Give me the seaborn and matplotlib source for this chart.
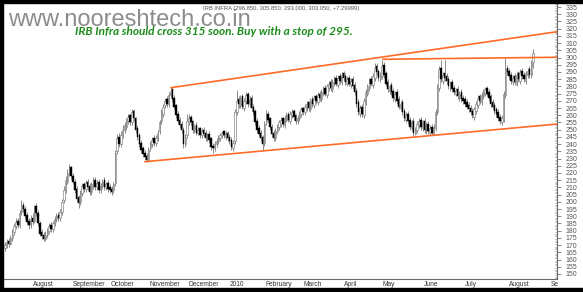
import numpy as np
import pandas as pd
import matplotlib
matplotlib.use("Agg")
import matplotlib.pyplot as plt
import matplotlib.transforms as mtransforms
from matplotlib.patches import Rectangle
from matplotlib.ticker import FixedLocator, MultipleLocator
import seaborn as sns

# ---------------- data ----------------
opens = [168, 170, 173, 171, 175,
         179, 183, 187, 184,
         193,
         198, 195, 191, 187, 184, 189,
         187, 197, 192,
         185, 179, 177, 174,
         177, 180, 184, 181, 185,
         188, 191, 189, 193, 201,
         208, 214, 220, 224, 218,
         214, 209, 203,
         200, 206, 212, 209, 214,
         211, 207, 211, 215, 210, 214, 208,
         211, 215, 210, 213, 210,
         209, 208,
         213, 235, 245, 240, 246,
         250, 252, 256, 260, 255, 263,
         258, 251, 246, 241, 237, 234, 232,
         229, 237, 240, 244, 241, 244,
         249, 256, 261, 267, 271, 268, 274, 278,
         272, 267, 261, 257, 254,
         250, 240, 246,
         255, 259, 256, 250, 253, 248, 251, 246, 250, 248, 244, 247,
         244, 239, 237,
         240, 242, 244, 246, 249, 245, 248, 245, 243, 237,
         242, 262, 271,
         267, 273, 265, 270, 275, 268, 272, 266,
         263, 256, 251, 248, 245,
         241, 255, 261, 258,
         252, 248, 244, 249,
         252, 254, 258, 253, 257, 261, 256, 260, 263, 260, 256, 258,
         261, 265, 262, 265, 269, 264, 271, 267, 273, 269,
         275, 271, 275, 279, 274, 279, 283, 278, 282, 286,
         281, 287, 283, 289, 287, 282, 286, 281,
         285, 281, 277, 269, 261, 266, 260, 269,
         275, 279, 285, 281, 286, 294, 291, 285,
         287, 295, 289, 283, 277, 281, 277, 271,
         276, 271, 265, 269, 263, 257, 261, 257, 251, 256, 247, 250,
         253, 257, 251, 256, 249, 254, 248, 252, 247,
         251, 262, 279, 293, 284, 289, 287, 285, 279,
         283, 279, 275, 278, 272, 276, 272, 271, 269, 267, 265, 263,
         259, 263, 267, 273, 269, 273, 275, 279,
         276, 273, 269, 267, 264, 262, 259, 255,
         257, 274, 293,
         291, 288, 283, 287, 282, 289, 284, 291, 288, 284, 288, 292,
         288, 296.85]

closes = [170, 172, 171, 175, 178,
          183, 186, 184, 192,
          198,
          195, 190, 186, 184, 188, 186,
          196, 192, 185,
          178, 176, 174, 177,
          180, 183, 181, 185, 188,
          190, 189, 193, 200, 208,
          215, 220, 223, 218, 214,
          208, 202, 199,
          206, 211, 209, 213, 210,
          207, 212, 215, 210, 213, 208, 211,
          214, 210, 212, 209, 208,
          207, 212,
          234, 244, 240, 246, 250,
          253, 256, 259, 255, 262, 258,
          250, 245, 240, 236, 233, 231, 229,
          236, 240, 243, 241, 244, 248,
          255, 262, 266, 270, 268, 274, 277, 271,
          266, 260, 256, 253, 250,
          240, 245, 256,
          258, 255, 250, 252, 248, 250, 246, 249, 247, 244, 246, 243,
          238, 237, 240,
          242, 244, 246, 248, 246, 247, 244, 242, 238, 241,
          262, 270, 268,
          272, 266, 270, 274, 268, 271, 265, 262,
          255, 250, 247, 244, 240,
          254, 260, 257, 252,
          247, 244, 249, 252,
          255, 257, 254, 258, 260, 257, 261, 262, 259, 256, 258, 261,
          264, 262, 266, 268, 265, 270, 268, 272, 270, 274,
          272, 276, 278, 275, 280, 282, 279, 283, 285, 282,
          286, 284, 288, 286, 283, 285, 282, 284,
          280, 276, 268, 262, 265, 261, 270, 276,
          280, 284, 282, 287, 293, 290, 286, 288,
          294, 288, 282, 278, 280, 276, 272, 275,
          270, 266, 268, 262, 258, 260, 256, 252, 255, 248, 250, 254,
          256, 252, 255, 250, 253, 249, 251, 248, 252,
          262, 280, 292, 285, 288, 286, 284, 280, 282,
          278, 276, 277, 273, 275, 271, 270, 268, 266, 264, 262, 260,
          264, 268, 272, 270, 274, 276, 278, 275,
          272, 268, 266, 263, 261, 258, 256, 258,
          275, 292, 290,
          287, 284, 286, 283, 288, 285, 290, 287, 285, 289, 291, 288,
          296, 303.05]

highs = [172, 174, 175, 177, 181,
         185, 189, 189, 194,
         201,
         200, 197, 193, 189, 191, 192,
         198, 199, 194,
         187, 181, 179, 180,
         182, 185, 186, 187, 190,
         192, 193, 195, 202, 211,
         218, 223, 226, 225, 220,
         216, 211, 205,
         208, 213, 214, 215, 216,
         213, 214, 217, 217, 215, 216, 213,
         216, 217, 214, 215, 212,
         211, 214,
         236, 247, 248, 249, 253,
         255, 258, 261, 261, 264, 264,
         259, 253, 248, 243, 239, 236, 234,
         238, 242, 245, 246, 246, 250,
         257, 264, 268, 272, 273, 276, 279.5, 279,
         274, 268, 263, 259, 256,
         252, 247, 261,
         261, 260, 257, 254, 255, 252, 252, 251, 252, 250, 248, 249,
         245, 241, 242,
         244, 246, 248, 249, 250, 249, 249, 247, 245, 243,
         264, 277.5, 273,
         274, 275, 272, 276, 276, 273, 274, 268,
         264, 258, 253, 250, 246,
         256, 263.5, 263, 259,
         254, 250, 251, 254,
         257, 259, 259, 260, 262, 262, 263, 264, 264, 261, 260, 263,
         266, 266, 268, 270, 270, 272, 273, 274, 275, 276,
         277, 278, 280, 281, 282, 284, 285, 285, 287, 288,
         288, 289, 290, 291, 289, 287, 288, 286,
         287, 283, 279, 271, 267, 268, 272, 278,
         282, 286, 287, 289, 296, 296, 292, 290,
         298.5, 297, 291, 285, 282, 283, 279, 277,
         278, 273, 270, 271, 265, 262, 263, 259, 257, 258, 252, 256,
         258, 259, 257, 258, 255, 256, 253, 254, 254,
         264, 282, 294, 298.5, 290, 298, 289, 287, 284,
         285, 281, 279, 280, 277, 278, 274, 273, 271, 269, 267, 265,
         266, 270, 274, 275, 276, 278, 279.6, 280,
         278, 275, 271, 269, 266, 264, 261, 260,
         277, 300, 295,
         293, 290, 288, 289, 290, 291, 292, 293, 290, 291, 293, 294,
         298, 305.85]

lows = [166, 168, 169, 170, 173,
        177, 181, 182, 182,
        191,
        193, 188, 184, 181, 182, 184,
        185, 190, 183,
        176, 174, 173, 173,
        175, 178, 179, 179, 183,
        186, 187, 187, 191, 199,
        206, 212, 218, 216, 212,
        206, 200, 196,
        198, 204, 207, 207, 208,
        205, 205, 209, 208, 208, 206, 206,
        209, 208, 208, 207, 206,
        205, 206,
        211, 233, 238, 238, 244,
        248, 250, 254, 253, 253, 256,
        248, 243, 238, 234, 231, 229, 227.5,
        228, 235, 238, 239, 239, 242,
        247, 254, 259, 265, 266, 266, 272, 269,
        264, 258, 254, 251, 248,
        237, 238, 244,
        253, 253, 248, 248, 246, 246, 244, 244, 245, 242, 242, 241,
        236, 234, 235,
        238, 240, 242, 244, 244, 243, 242, 240, 236, 235,
        240, 260, 265,
        265, 264, 263, 268, 266, 266, 263, 260,
        253, 248, 245, 242, 236,
        239, 253, 255, 250,
        245, 242, 242, 247,
        250, 252, 252, 251, 255, 255, 254, 258, 257, 254, 254, 256,
        259, 260, 260, 263, 263, 262, 266, 265, 268, 267,
        270, 269, 273, 273, 272, 277, 277, 276, 280, 280,
        279, 282, 281, 284, 281, 280, 280, 279,
        278, 274, 266, 260, 259, 259, 258, 267,
        273, 277, 280, 279, 284, 288, 284, 283,
        285, 286, 280, 276, 275, 274, 270, 269,
        268, 264, 263, 260, 256, 255, 254, 250, 249, 245, 246, 248,
        251, 250, 249, 248, 247, 247, 246, 246, 246,
        249, 260, 277, 283, 282, 284, 282, 278, 277,
        276, 274, 273, 271, 270, 269, 268, 266, 264, 262, 260, 258,
        257, 261, 265, 268, 267, 271, 273, 273,
        270, 266, 264, 261, 259, 256, 254, 253,
        255, 272, 288,
        285, 282, 281, 281, 280, 283, 282, 285, 283, 282, 286, 286,
        286, 293]

month_labels = ["August", "September", "October", "November", "December",
                "2010", "February", "March", "April", "May", "June", "July",
                "August", "Se"]

# trend lines drawn on the chart (x in trading-day index, y in price)
upper_x, upper_y = [90.2, 300], [279.1, 317.9]
lower_x, lower_y = [76.0, 300], [227.8, 253.9]
resist_x, resist_y = [205.4, 300], [298.8, 300.2]

header = "IRB INFRA (296.850, 305.850, 293.000, 303.050, +7.29999)"
site = "www.nooreshtech.co.in"
note = "IRB Infra should cross 315 soon. Buy with a stop of 295."

# ---------------- layout ----------------
month_pos = [14.5, 35.9, 57.0, 77.7, 98.9, 121.2, 140.8, 161.8, 183.5,
             204.7, 227.0, 249.5, 273.2, 295.7]

sns.set_style("white")
plt.rcParams['font.family'] = ['Liberation Sans', 'DejaVu Sans']

W, H = 583, 292
fig = plt.figure(figsize=(W / 100, H / 100), dpi=100)
ax = fig.add_axes([4 / W, 13 / H, 553 / W, 276 / H])

df = pd.DataFrame({"open": opens, "high": highs, "low": lows, "close": closes})
df["idx"] = np.arange(len(df))
up = df["close"] >= df["open"]

# wicks
ax.vlines(df["idx"], df["low"], df["high"], color="#8a8a8a", lw=0.7, zorder=2)
# bodies
d_up = df[up]
d_dn = df[~up]
ax.bar(d_up["idx"], (d_up["close"] - d_up["open"]).clip(lower=0.4),
       bottom=d_up["open"], width=0.8, color="white", edgecolor="#7a7a7a",
       lw=0.45, zorder=3)
ax.bar(d_dn["idx"], (d_dn["open"] - d_dn["close"]).clip(lower=0.4),
       bottom=d_dn["close"], width=0.8, color="black", edgecolor="black",
       lw=0.3, zorder=3)

orange = "#ff6a26"
for xs, ys in [(upper_x, upper_y), (lower_x, lower_y), (resist_x, resist_y)]:
    sns.lineplot(x=xs, y=ys, color=orange, lw=1.2, ax=ax, zorder=4)

ax.set_xlim(-0.5, 300)
ax.set_ylim(146.5, 337.8)

# spines
for s in ["top", "left"]:
    ax.spines[s].set_visible(False)
for s in ["bottom", "right"]:
    ax.spines[s].set_color("#6a6a6a")
    ax.spines[s].set_linewidth(0.8)

# y axis on right
ax.yaxis.tick_right()
ax.yaxis.set_major_locator(FixedLocator(list(range(150, 340, 5))))
ax.yaxis.set_minor_locator(MultipleLocator(1))
ax.tick_params(axis="y", which="major", direction="out", length=3,
               width=0.6, color="#777777", labelsize=5, labelcolor="#555555",
               pad=3)
ax.tick_params(axis="y", which="minor", direction="in", length=1.6,
               width=0.4, color="#888888")

# x axis
ax.xaxis.set_major_locator(FixedLocator(month_pos))
ax.xaxis.set_minor_locator(MultipleLocator(5))
ax.set_xticklabels([])
ax.tick_params(axis="x", which="major", direction="out", length=7,
               width=0.6, color="#666666")
ax.tick_params(axis="x", which="minor", direction="out", length=2,
               width=0.5, color="#777777")
trans = mtransforms.blended_transform_factory(ax.transData, ax.transAxes)
for pos, lab in zip(month_pos, month_labels):
    ax.text(pos + 0.7, -0.02, lab, transform=trans, ha="left", va="center",
            fontsize=4.8, color="#333333", clip_on=False)
ax.set_xlabel("")
ax.set_ylabel("")

# texts
fig.text(8 / W, 1 - 26 / H, site, fontsize=17, color="#8c8c8c",
         ha="left", va="baseline")
fig.text(203 / W, 1 - 10 / H, header, fontsize=4.2, color="#555555",
         ha="left", va="baseline")
fig.text(75 / W, 1 - 35 / H, note, fontsize=8.5, color="#1b8c1b",
         ha="left", va="baseline", fontweight="bold", fontstyle="italic",
         family=["Lato", "DejaVu Sans"])

# image border (black frame on left / top / bottom)
for (x0, y0, w, h) in [(0, 0, 3, H), (0, H - 2.5, W, 2.5), (0, 0, W, 4)]:
    fig.patches.append(Rectangle((x0 / W, y0 / H), w / W, h / H,
                                 transform=fig.transFigure, color="black",
                                 zorder=10))

fig.savefig("out.png", dpi=100)
